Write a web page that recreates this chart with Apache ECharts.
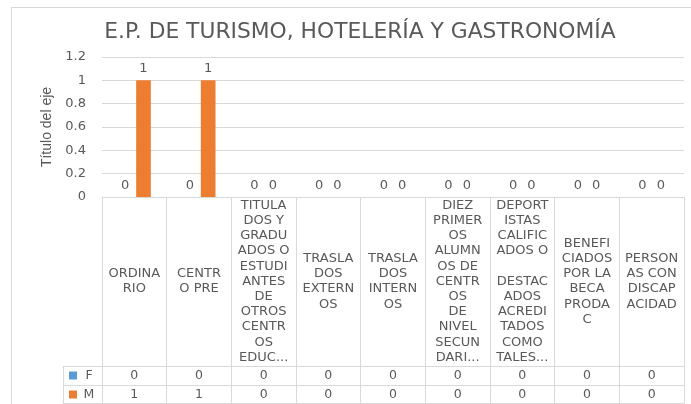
<!DOCTYPE html>
<html>
<head>
<meta charset="utf-8">
<script src="https://cdn.jsdelivr.net/npm/echarts@6/dist/echarts.min.js"></script>
<style>
  html, body { margin: 0; padding: 0; background: #fff; }
  #frame { position: absolute; left: 11px; top: 7px; width: 700px; height: 420px; border: 1px solid #d9d9d9; box-sizing: border-box; }
  #chart { position: absolute; left: 0; top: 0; width: 691px; height: 404px; }
</style>
</head>
<body>
<div id="frame"></div>
<div id="chart"></div>
<script>
const titleText = 'E.P. DE TURISMO, HOTELERÍA Y GASTRONOMÍA';
const yAxisTitle = 'Título del eje';
const categories = [
  'ORDINA\nRIO',
  'CENTR\nO PRE',
  'TITULA\nDOS Y\nGRADU\nADOS O\nESTUDI\nANTES\nDE\nOTROS\nCENTR\nOS\nEDUC...',
  'TRASLA\nDOS\nEXTERN\nOS',
  'TRASLA\nDOS\nINTERN\nOS',
  'DIEZ\nPRIMER\nOS\nALUMN\nOS DE\nCENTR\nOS\nDE\nNIVEL\nSECUN\nDARI...',
  'DEPORT\nISTAS\nCALIFIC\nADOS O\n\nDESTAC\nADOS\nACREDI\nTADOS\nCOMO\nTALES...',
  'BENEFI\nCIADOS\nPOR LA\nBECA\nPRODA\nC',
  'PERSON\nAS CON\nDISCAP\nACIDAD'
];
const seriesNames = ['F', 'M'];
const valuesF = [0, 0, 0, 0, 0, 0, 0, 0, 0];
const valuesM = [1, 1, 0, 0, 0, 0, 0, 0, 0];
const yMin = 0, yMax = 1.2, yStep = 0.2;

const FONT = 'DejaVu Sans';
const TXT = '#595959';
const LINE = '#d9d9d9';
const colF = '#5B9BD5';
const colM = '#ED7D31';

const chart = echarts.init(document.getElementById('chart'), null, { renderer: 'canvas' });

const lbl = { color: TXT, fontFamily: FONT, fontSize: 12.5 };
const rowAxis = (data, offset, showLabel) => ({
  type: 'category', gridIndex: 0, position: 'bottom', offset: offset, data: data,
  axisLine: { show: true, onZero: false, lineStyle: { color: LINE, width: 1 } },
  axisTick: { show: false },
  axisLabel: Object.assign({ show: showLabel, interval: 0, margin: 9.5, verticalAlign: 'middle' }, lbl),
  splitLine: { show: false }
});
const headAxis = (name, color, offset, tickLen) => ({
  type: 'category', gridIndex: 1, position: 'bottom', offset: offset, data: name ? [name] : [''],
  axisLine: { show: true, onZero: false, lineStyle: { color: LINE, width: 1 } },
  axisTick: { show: tickLen > 0, length: tickLen, interval: 0, lineStyle: { color: LINE } },
  axisLabel: Object.assign({
    show: !!name, interval: 0, margin: 9.5, verticalAlign: 'middle', align: 'center',
    formatter: v => '{k|}{s|}{t|' + v + '}',
    rich: {
      k: { width: 8, height: 8, backgroundColor: color },
      s: { width: 5 },
      t: { width: 14, align: 'left', color: TXT, fontFamily: FONT, fontSize: 12.5 }
    }
  }, lbl)
});

chart.setOption({
  animation: false,
  backgroundColor: 'transparent',
  title: {
    text: titleText, left: 355, top: 16, textAlign: 'center',
    textStyle: { color: TXT, fontFamily: FONT, fontSize: 21.8, fontWeight: 'normal' }
  },
  grid: [
    { left: 102, right: 7, top: 57, bottom: 207, containLabel: false },
    { left: 63, width: 39, top: 57, bottom: 207, containLabel: false }
  ],
  xAxis: [
    {
      type: 'category', gridIndex: 0, position: 'bottom', data: categories,
      axisLine: { show: true, onZero: false, lineStyle: { color: LINE } },
      axisTick: { show: true, length: 206, interval: 0, alignWithLabel: false, lineStyle: { color: LINE } },
      axisLabel: Object.assign({ interval: 0, margin: 84.5, verticalAlign: 'middle', lineHeight: 15.2, align: 'center' }, lbl, { fontSize: 13 }),
      splitLine: { show: false }
    },
    rowAxis(valuesF.map(String), 169, true),
    rowAxis(valuesM.map(String), 188, true),
    rowAxis(valuesM.map(() => ''), 206, false),
    headAxis(seriesNames[0], colF, 169, 37),
    headAxis(seriesNames[1], colM, 188, 0),
    headAxis('', colF, 206, 0)
  ],
  yAxis: [
    {
      type: 'value', gridIndex: 0, min: yMin, max: yMax, interval: yStep,
      name: yAxisTitle, nameLocation: 'middle', nameRotate: 90, nameGap: 47,
      nameTextStyle: { color: TXT, fontFamily: "'Liberation Sans Narrow', 'Liberation Sans', sans-serif", fontSize: 14 },
      axisLine: { show: false }, axisTick: { show: false },
      axisLabel: Object.assign({ margin: 16 }, lbl, { fontSize: 13 }),
      splitLine: { show: true, lineStyle: { color: LINE, width: 1 } }
    },
    { type: 'value', gridIndex: 1, show: false, min: yMin, max: yMax }
  ],
  series: [
    {
      name: seriesNames[0], type: 'bar', xAxisIndex: 0, yAxisIndex: 0, data: valuesF,
      itemStyle: { color: colF }, barCategoryGap: '49%', barGap: '25%',
      label: { show: true, position: 'top', distance: 5, color: TXT, fontFamily: FONT, fontSize: 13 }
    },
    {
      name: seriesNames[1], type: 'bar', xAxisIndex: 0, yAxisIndex: 0, data: valuesM,
      itemStyle: { color: colM }, barCategoryGap: '49%', barGap: '25%',
      label: { show: true, position: 'top', distance: 5, color: TXT, fontFamily: FONT, fontSize: 13 }
    }
  ]
});
</script>
</body>
</html>
